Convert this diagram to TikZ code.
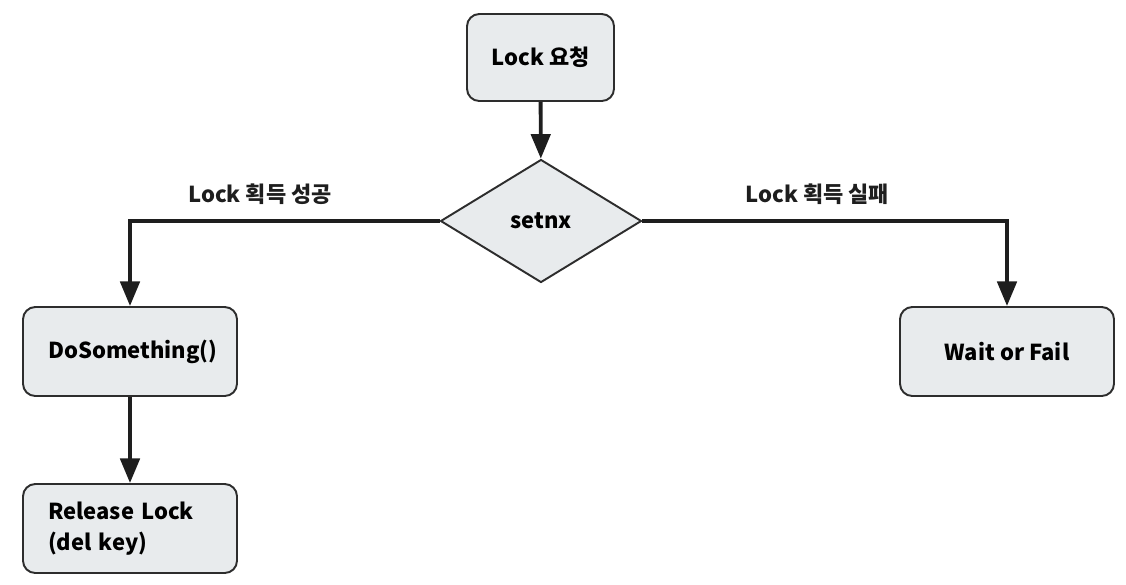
\documentclass[tikz,border=0pt]{standalone}
\usepackage{fontspec}
\setmainfont{Noto Sans CJK KR}
\usepackage{tikz}
\usetikzlibrary{shapes.geometric, arrows.meta, positioning}
\definecolor{boxfill}{RGB}{232,235,237}
\definecolor{boxline}{RGB}{45,45,45}
\definecolor{arrowdark}{RGB}{30,30,30}
\tikzset{
  stepbox/.style={rectangle, draw=boxline, fill=boxfill,
    minimum width=2.94cm, minimum height=1.74cm,
    font=\fontsize{12.5}{15}\selectfont\bfseries, rounded corners=7pt, line width=1.1pt},
  leftbox/.style={rectangle, draw=boxline, fill=boxfill,
    text width=3.28cm, inner xsep=0.5cm, align=left, minimum height=1.78cm,
    font=\fontsize{12.5}{17.5}\selectfont\bfseries, rounded corners=7pt, line width=1.1pt},
  decision/.style={diamond, draw=boxline, fill=boxfill, aspect=1.63, inner sep=0pt,
    minimum width=4.02cm, minimum height=2.46cm,
    font=\fontsize{12.5}{15}\selectfont\bfseries, line width=1.1pt},
  arrow/.style={-{Triangle[length=14pt, width=11pt]}, line width=2.2pt, color=arrowdark},
  edgelabel/.style={font=\fontsize{12.5}{15}\selectfont\bfseries, above=0.17cm}
}
\begin{document}
\begin{tikzpicture}
  \useasboundingbox (0,0) rectangle (22.52,-11.68);

  % Top Node
  \node[stepbox] (req) at (10.81,-1.15) {Lock 요청};

  % Decision
  \node[decision] (setnx) at (10.82,-4.42) {setnx};

  % Branch Nodes
  \node[leftbox] (work) at (2.6,-7.03) {DoSomething()};
  \node[stepbox, minimum width=4.28cm, minimum height=1.78cm] (wait) at (20.14,-7.03) {Wait or Fail};

  % Bottom Node
  \node[leftbox] (release) at (2.6,-10.57) {Release Lock\\(del key)};

  % Paths
  \draw[arrow] (req) -- (setnx);
  \draw[arrow] (setnx.west) -| (work.north) node[edgelabel, pos=0.29] {Lock 획득 성공};
  \draw[arrow] (setnx.east) -| (wait.north) node[edgelabel, pos=0.24] {Lock 획득 실패};
  \draw[arrow] (work) -- (release);
\end{tikzpicture}
\end{document}
